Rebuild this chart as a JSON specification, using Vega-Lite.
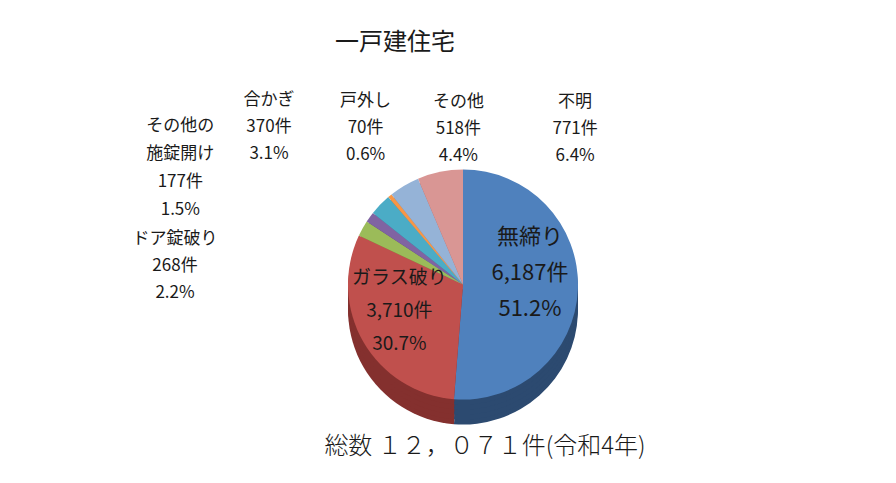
{
  "$schema": "https://vega.github.io/schema/vega-lite/v6.json",
  "width": 896,
  "height": 483,
  "autosize": {"type": "fit", "contains": "padding"},
  "padding": {"left": 30, "right": 0, "top": 73, "bottom": 0},
  "background": "white",
  "config": {"view": {"stroke": null}, "font": "Noto Sans CJK JP"},
  "data": {
    "values": [
      {"cat": "無締り", "count": 6187, "ord": 1, "label": "無締り\n6,187件\n51.2%"},
      {"cat": "ガラス破り", "count": 3710, "ord": 2, "label": "ガラス破り\n3,710件\n30.7%"},
      {"cat": "ドア錠破り", "count": 268, "ord": 3, "label": "ドア錠破り\n268件\n2.2%"},
      {"cat": "その他の施錠開け", "count": 177, "ord": 4, "label": "その他の\n施錠開け\n177件\n1.5%"},
      {"cat": "合かぎ", "count": 370, "ord": 5, "label": "合かぎ\n370件\n3.1%"},
      {"cat": "戸外し", "count": 70, "ord": 6, "label": "戸外し\n70件\n0.6%"},
      {"cat": "その他", "count": 518, "ord": 7, "label": "その他\n518件\n4.4%"},
      {"cat": "不明", "count": 771, "ord": 8, "label": "不明\n771件\n6.4%"}
    ]
  },
  "resolve": {"scale": {"color": "independent"}},
  "layer": [
    {
      "layer": [
        {"mark": {"type": "arc", "radius": 115, "yOffset": 25}},
        {"mark": {"type": "arc", "radius": 115, "yOffset": 20}},
        {"mark": {"type": "arc", "radius": 115, "yOffset": 15}},
        {"mark": {"type": "arc", "radius": 115, "yOffset": 10}},
        {"mark": {"type": "arc", "radius": 115, "yOffset": 5}}
      ],
      "encoding": {
        "theta": {"field": "count", "type": "quantitative", "stack": true},
        "order": {"field": "ord", "type": "quantitative"},
        "color": {
          "field": "cat", "type": "nominal", "legend": null,
          "scale": {
            "domain": ["無締り", "ガラス破り", "ドア錠破り", "その他の施錠開け", "合かぎ", "戸外し", "その他", "不明"],
            "range": ["#2C4A70", "#84302E", "#6E8A3A", "#584473", "#2F8199", "#C06A1F", "#6787B0", "#A86664"]
          }
        }
      }
    },
    {
      "mark": {"type": "arc", "radius": 115},
      "encoding": {
        "theta": {"field": "count", "type": "quantitative", "stack": true},
        "order": {"field": "ord", "type": "quantitative"},
        "color": {
          "field": "cat", "type": "nominal", "legend": null,
          "scale": {
            "domain": ["無締り", "ガラス破り", "ドア錠破り", "その他の施錠開け", "合かぎ", "戸外し", "その他", "不明"],
            "range": ["#4F81BD", "#C0504D", "#9BBB59", "#8064A2", "#4BACC6", "#F79646", "#95B3D7", "#D99694"]
          }
        }
      }
    },
    {
      "mark": {"type": "text", "radius": 59, "dx": 8, "dy": -50, "fontSize": 22, "lineHeight": 36, "lineBreak": "\n", "color": "#1a1a1a"},
      "encoding": {
        "theta": {"field": "count", "type": "quantitative", "stack": true},
        "order": {"field": "ord", "type": "quantitative"},
        "detail": {"field": "cat", "type": "nominal"},
        "text": {"condition": {"test": "datum.cat === '無締り'", "field": "label", "type": "nominal"}, "value": ""}
      }
    },
    {
      "mark": {"type": "text", "radius": 62, "dx": -10, "dy": -38, "fontSize": 19, "lineHeight": 33, "lineBreak": "\n", "color": "#1a1a1a"},
      "encoding": {
        "theta": {"field": "count", "type": "quantitative", "stack": true},
        "order": {"field": "ord", "type": "quantitative"},
        "detail": {"field": "cat", "type": "nominal"},
        "text": {"condition": {"test": "datum.cat === 'ガラス破り'", "field": "label", "type": "nominal"}, "value": ""}
      }
    },
    {
      "mark": {"type": "text", "radius": 150, "dx": -157, "dy": 28, "fontSize": 17, "lineHeight": 27, "lineBreak": "\n", "color": "#1a1a1a"},
      "encoding": {
        "theta": {"field": "count", "type": "quantitative", "stack": true},
        "order": {"field": "ord", "type": "quantitative"},
        "detail": {"field": "cat", "type": "nominal"},
        "text": {"condition": {"test": "datum.cat === 'ドア錠破り'", "field": "label", "type": "nominal"}, "value": ""}
      }
    },
    {
      "mark": {"type": "text", "radius": 150, "dx": -161, "dy": -71, "fontSize": 17, "lineHeight": 28, "lineBreak": "\n", "color": "#1a1a1a"},
      "encoding": {
        "theta": {"field": "count", "type": "quantitative", "stack": true},
        "order": {"field": "ord", "type": "quantitative"},
        "detail": {"field": "cat", "type": "nominal"},
        "text": {"condition": {"test": "datum.cat === 'その他の施錠開け'", "field": "label", "type": "nominal"}, "value": ""}
      }
    },
    {
      "mark": {"type": "text", "radius": 150, "dx": -86, "dy": -80, "fontSize": 17, "lineHeight": 27, "lineBreak": "\n", "color": "#1a1a1a"},
      "encoding": {
        "theta": {"field": "count", "type": "quantitative", "stack": true},
        "order": {"field": "ord", "type": "quantitative"},
        "detail": {"field": "cat", "type": "nominal"},
        "text": {"condition": {"test": "datum.cat === '合かぎ'", "field": "label", "type": "nominal"}, "value": ""}
      }
    },
    {
      "mark": {"type": "text", "radius": 150, "dx": -2, "dy": -68, "fontSize": 17, "lineHeight": 27, "lineBreak": "\n", "color": "#1a1a1a"},
      "encoding": {
        "theta": {"field": "count", "type": "quantitative", "stack": true},
        "order": {"field": "ord", "type": "quantitative"},
        "detail": {"field": "cat", "type": "nominal"},
        "text": {"condition": {"test": "datum.cat === '戸外し'", "field": "label", "type": "nominal"}, "value": ""}
      }
    },
    {
      "mark": {"type": "text", "radius": 150, "dx": 72, "dy": -54, "fontSize": 17, "lineHeight": 27, "lineBreak": "\n", "color": "#1a1a1a"},
      "encoding": {
        "theta": {"field": "count", "type": "quantitative", "stack": true},
        "order": {"field": "ord", "type": "quantitative"},
        "detail": {"field": "cat", "type": "nominal"},
        "text": {"condition": {"test": "datum.cat === 'その他'", "field": "label", "type": "nominal"}, "value": ""}
      }
    },
    {
      "mark": {"type": "text", "radius": 150, "dx": 142, "dy": -36, "fontSize": 17, "lineHeight": 27, "lineBreak": "\n", "color": "#1a1a1a"},
      "encoding": {
        "theta": {"field": "count", "type": "quantitative", "stack": true},
        "order": {"field": "ord", "type": "quantitative"},
        "detail": {"field": "cat", "type": "nominal"},
        "text": {"condition": {"test": "datum.cat === '不明'", "field": "label", "type": "nominal"}, "value": ""}
      }
    },
    {
      "data": {"values": [{"t": "一戸建住宅"}]},
      "mark": {"type": "text", "dx": -68, "dy": -242, "fontSize": 24, "color": "#1a1a1a"},
      "encoding": {"text": {"field": "t", "type": "nominal"}}
    },
    {
      "data": {"values": [{"t": "総数 １２，０７１件(令和4年)"}]},
      "mark": {"type": "text", "dx": 22, "dy": 162, "fontSize": 24, "fontWeight": 300, "color": "#1a1a1a"},
      "encoding": {"text": {"field": "t", "type": "nominal"}}
    }
  ]
}
